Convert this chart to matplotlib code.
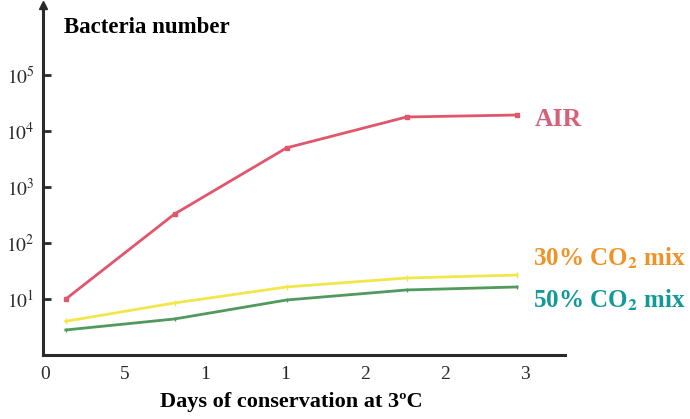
"""
Bacteria growth under different storage atmospheres (log scale)
"""

import matplotlib
matplotlib.use('Agg')
import matplotlib.pyplot as plt

plt.rcParams['font.family'] = ['Liberation Serif', 'DejaVu Serif']
plt.rcParams['mathtext.fontset'] = 'stix'

# data
days = [0.13, 0.81, 1.51, 2.26, 2.95]
air = [10, 330, 5000, 17800, 19300]
co2_30 = [4.0, 8.5, 16.4, 23.7, 26.8]
co2_50 = [2.8, 4.4, 9.6, 14.5, 16.4]

x_ticks = [0, 0.5, 1, 1.5, 2, 2.5, 3]
x_tick_labels = ['0', '5', '1', '1', '2', '2', '3']
y_ticks = [10, 100, 1000, 10000, 100000]
y_tick_labels = [r'$10^{1}$', r'$10^{2}$', r'$10^{3}$', r'$10^{4}$', r'$10^{5}$']

COLORS = {
    'air': '#E2566C',
    'co2_30': '#F2E74A',
    'co2_50': '#4F9A5C',
    'air_text': '#D4607A',
    'co2_30_text': '#F29226',
    'co2_50_text': '#13999A',
    'axis': '#2A2A2A',
}

fig = plt.figure(figsize=(6.9, 4.19), dpi=100)
ax = fig.add_axes([43 / 690, 64 / 419, 522 / 690, 350 / 419])

ax.plot(days, air, color=COLORS['air'], lw=2, marker='s', ms=3.5)
ax.plot(days, co2_30, color=COLORS['co2_30'], lw=2, marker='|', ms=4)
ax.plot(days, co2_50, color=COLORS['co2_50'], lw=2, marker='|', ms=3)

ax.set_yscale('log')
ax.set_xlim(-0.0125, 3.25)
ax.set_ylim(1, 10 ** 6.25)

ax.set_xticks(x_ticks)
ax.set_xticklabels(x_tick_labels, fontsize=14)
ax.set_yticks(y_ticks)
ax.set_yticklabels(y_tick_labels, fontsize=14)
ax.minorticks_off()
ax.tick_params(axis='x', length=0, pad=8, colors=COLORS['axis'])
ax.tick_params(axis='y', direction='in', length=6, width=2, pad=6,
               colors=COLORS['axis'])

for side in ['top', 'right']:
    ax.spines[side].set_visible(False)
for side in ['left', 'bottom']:
    ax.spines[side].set_linewidth(2.2)
    ax.spines[side].set_color(COLORS['axis'])

# arrow head on the y axis
ax.plot([0], [1], marker='^', ms=6, color=COLORS['axis'],
        transform=ax.transAxes, clip_on=False)

ax.text(0.04, 0.965, 'Bacteria number', transform=ax.transAxes,
        fontsize=16.5, fontweight='bold', ha='left', va='top')
ax.set_xlabel('Days of conservation at 3ºC', fontsize=16, fontweight='bold')
ax.xaxis.set_label_coords((291 - 43) / 522, -0.105)

ax.text(3.06, 10 ** 4.2, 'AIR', fontsize=18.5, fontweight='bold',
        color=COLORS['air_text'], ha='left', va='center', clip_on=False)
ax.text(3.05, 54, r'30% CO$_\mathbf{2}$ mix', fontsize=18, fontweight='bold',
        color=COLORS['co2_30_text'], ha='left', va='center', clip_on=False)
ax.text(3.05, 9.6, r'50% CO$_\mathbf{2}$ mix', fontsize=18, fontweight='bold',
        color=COLORS['co2_50_text'], ha='left', va='center', clip_on=False)

fig.savefig('out.png', dpi=100, facecolor='white')
